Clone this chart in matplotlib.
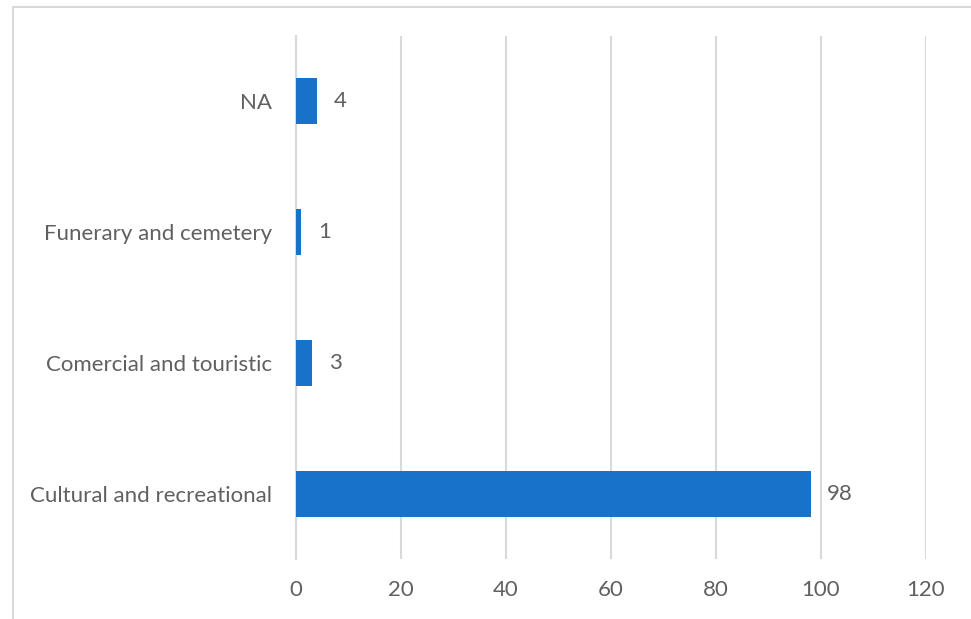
import matplotlib.pyplot as plt
from matplotlib.patches import Rectangle

categories = ['Cultural and recreational', 'Comercial and touristic', 'Funerary and cemetery', 'NA']
values = [98, 3, 1, 4]
xticks = [0, 20, 40, 60, 80, 100, 120]

grey_txt = '#606060'
grid_c = '#D9D9D9'
bar_c = '#1872C8'

plt.rcParams['font.family'] = ['Lato', 'DejaVu Sans']

fig = plt.figure(figsize=(9.71, 6.19), dpi=100)
# chart border (cropped on right/bottom)
fig.patches.append(Rectangle((13 / 971, -0.01), 1.0, 1 - 7 / 619 + 0.01, transform=fig.transFigure,
                             fill=False, edgecolor=grid_c, linewidth=1.5))

ax = fig.add_axes([296 / 971, 1 - 559 / 619, 630 / 971, 523 / 619])
y = range(len(categories))
bars = ax.barh(y, values, height=0.35, color=bar_c, zorder=3)
for b, v in zip(bars, values):
    ax.text(b.get_width() + 3.2, b.get_y() + b.get_height() / 2, str(v),
            va='center', ha='left', fontsize=16, color=grey_txt)

ax.set_xlim(0, 120)
ax.set_ylim(-0.5, len(categories) - 0.5)
ax.set_xticks(xticks)
ax.set_yticks(list(y))
ax.set_yticklabels(categories)
ax.xaxis.grid(True, color=grid_c, linewidth=1.5, zorder=0)
ax.tick_params(axis='x', length=0, pad=15, labelsize=16, labelcolor=grey_txt)
ax.tick_params(axis='y', length=0, pad=17, labelsize=16, labelcolor=grey_txt)
for s in ['top', 'right', 'bottom']:
    ax.spines[s].set_visible(False)
ax.spines['left'].set_color(grid_c)
ax.spines['left'].set_linewidth(1.5)

fig.savefig('out.png', dpi=100)
